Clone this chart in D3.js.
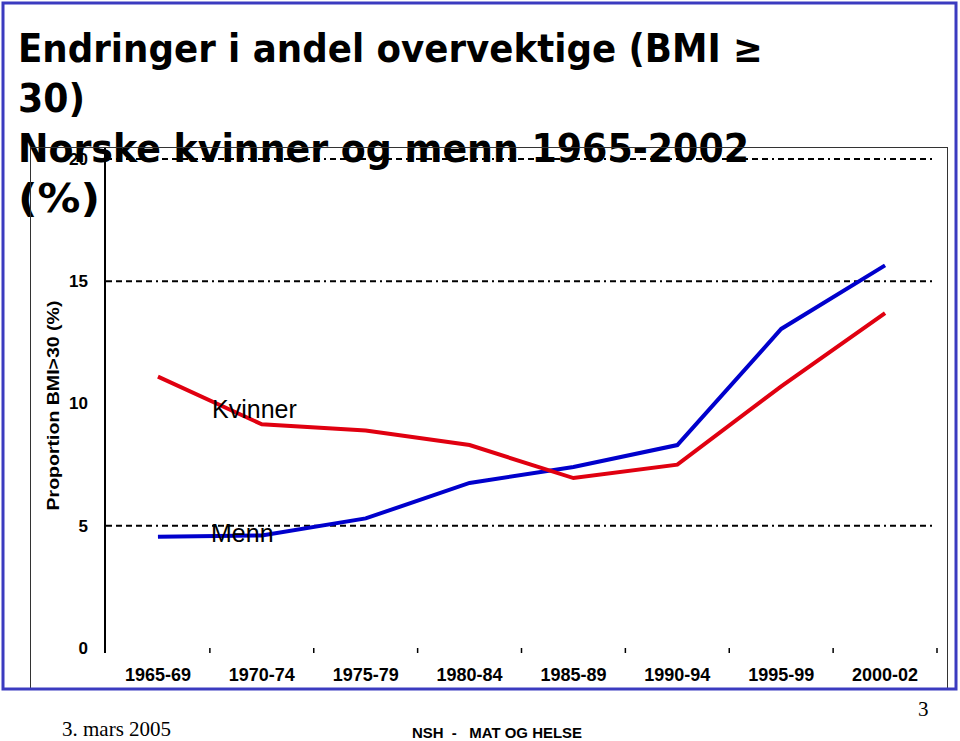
<!DOCTYPE html>
<html>
<head>
<meta charset="utf-8">
<script src="https://cdn.jsdelivr.net/npm/d3@7"></script>
<style>
  body { margin: 0; background: #fff; }
  svg { display: block; }
</style>
</head>
<body>
<div id="chart"></div>
<script>
// Values (percent with BMI >= 30)
const categories = ["1965-69", "1970-74", "1975-79", "1980-84", "1985-89", "1990-94", "1995-99", "2000-02"];
const kvinner = [11.1, 9.15, 8.9, 8.3, 6.95, 7.5, 10.7, 13.7];
const menn = [4.55, 4.6, 5.3, 6.75, 7.4, 8.3, 13.05, 15.65];
const yTicks = [0, 5, 10, 15, 20];
const gridValues = [5, 15, 20];
const titleLines = ["Endringer i andel overvektige (BMI \u2265", "30)", "Norske kvinner og menn 1965-2002", "(%)"];

const width = 960, height = 741;

let svg = d3.select("#chart")
  .append("svg")
    .attr("width", width)
    .attr("height", height);

// Slide title (drawn first, the chart picture sits on top of it)
const titleWidths = [745, 67, 731, 82];
svg.append("g")
  .selectAll("text")
  .data(titleLines)
  .enter().append("text")
    .attr("x", 18)
    .attr("y", (d, i) => 62 + i * 50)
    .attr("textLength", (d, i) => titleWidths[i])
    .attr("lengthAdjust", "spacingAndGlyphs")
    .style("font-family", "'DejaVu Sans', Verdana, sans-serif")
    .style("font-weight", "bold")
    .style("font-size", "39px")
    .style("fill", "#000")
    .text(d => d);

// Scales
let x = d3.scaleBand()
  .domain(categories)
  .range([106, 937]);

let y = d3.scaleLinear()
  .domain([0, 20])
  .range([648, 159]);

let cx = d => x(d) + x.bandwidth() / 2;

// Frame of the embedded chart picture
svg.append("rect")
  .attr("x", 30.5)
  .attr("y", 147.5)
  .attr("width", 917)
  .attr("height", 541)
  .style("fill", "none")
  .style("stroke", "#333")
  .style("stroke-width", 1);

// Dash-dot gridlines
svg.append("g")
  .selectAll("line")
  .data(gridValues)
  .enter().append("line")
    .attr("x1", 106)
    .attr("x2", 932)
    .attr("y1", d => y(d))
    .attr("y2", d => y(d))
    .style("stroke", "#000")
    .style("stroke-width", 2)
    .style("stroke-dasharray", "6,4,6,4,6,4,6,4,6,4,2,4");

// y axis
let yAxis = d3.axisLeft(y).tickValues(yTicks).tickSize(0).tickPadding(17);
let gy = svg.append("g")
  .attr("transform", "translate(105,0)")
  .call(yAxis);
gy.select(".domain").remove();
gy.selectAll("text")
  .style("font-family", "'Liberation Sans', Arial, sans-serif")
  .style("font-weight", "bold")
  .style("font-size", "17px")
  .style("fill", "#000");

svg.append("line")
  .attr("x1", 105).attr("x2", 105)
  .attr("y1", y(20) - 11)
  .attr("y2", y(0) + 5)
  .style("stroke", "#000")
  .style("stroke-width", 2);

// x axis labels
let xAxis = d3.axisBottom(x).tickSize(0).tickPadding(20);
let gx = svg.append("g")
  .attr("transform", "translate(0," + y(0) + ")")
  .call(xAxis);
gx.select(".domain").remove();
gx.selectAll("text")
  .style("font-family", "'Liberation Sans', Arial, sans-serif")
  .style("font-weight", "bold")
  .style("font-size", "18px")
  .style("fill", "#000");

// small ticks between the categories
svg.append("g")
  .selectAll("line")
  .data(categories.slice(1).map(c => x(c)).concat([x.range()[1]]))
  .enter().append("line")
    .attr("x1", d => d).attr("x2", d => d)
    .attr("y1", y(0))
    .attr("y2", y(0) + 5)
    .style("stroke", "#000")
    .style("stroke-width", 1.5);

// y axis title
svg.append("text")
  .attr("transform", "translate(59," + (y(10) + 2) + ") rotate(-90)")
  .attr("text-anchor", "middle")
  .attr("textLength", 210)
  .attr("lengthAdjust", "spacingAndGlyphs")
  .style("font-family", "'Liberation Sans', Arial, sans-serif")
  .style("font-weight", "bold")
  .style("font-size", "17px")
  .text("Proportion BMI>30 (%)");

// Series lines
let line = d3.line()
  .x((d, i) => cx(categories[i]))
  .y(d => y(d));

svg.append("path")
  .datum(menn)
  .attr("d", line)
  .style("fill", "none")
  .style("stroke", "#0000cc")
  .style("stroke-width", 4);

svg.append("path")
  .datum(kvinner)
  .attr("d", line)
  .style("fill", "none")
  .style("stroke", "#e00010")
  .style("stroke-width", 4);

// Series labels
svg.append("text")
  .attr("x", 212)
  .attr("y", 418)
  .style("font-family", "'Liberation Sans', Arial, sans-serif")
  .style("font-size", "25px")
  .text("Kvinner");

svg.append("text")
  .attr("x", 211)
  .attr("y", 542)
  .style("font-family", "'Liberation Sans', Arial, sans-serif")
  .style("font-size", "25px")
  .text("Menn");

// Slide border
svg.append("rect")
  .attr("x", 3)
  .attr("y", 3)
  .attr("width", 953)
  .attr("height", 686)
  .style("fill", "none")
  .style("stroke", "#3b3bc0")
  .style("stroke-width", 3);

// Footer
svg.append("text")
  .attr("x", 62)
  .attr("y", 736)
  .style("font-family", "'Liberation Serif', 'Times New Roman', serif")
  .style("font-size", "21px")
  .text("3. mars 2005");

svg.append("text")
  .attr("x", 412)
  .attr("y", 738)
  .attr("textLength", 170)
  .attr("lengthAdjust", "spacingAndGlyphs")
  .style("font-family", "'Liberation Sans', Arial, sans-serif")
  .style("font-weight", "bold")
  .style("font-size", "15px")
  .style("white-space", "pre")
  .text("NSH  -   MAT OG HELSE");

svg.append("text")
  .attr("x", 918)
  .attr("y", 716)
  .style("font-family", "'Liberation Serif', 'Times New Roman', serif")
  .style("font-size", "21px")
  .text("3");
</script>
</body>
</html>
